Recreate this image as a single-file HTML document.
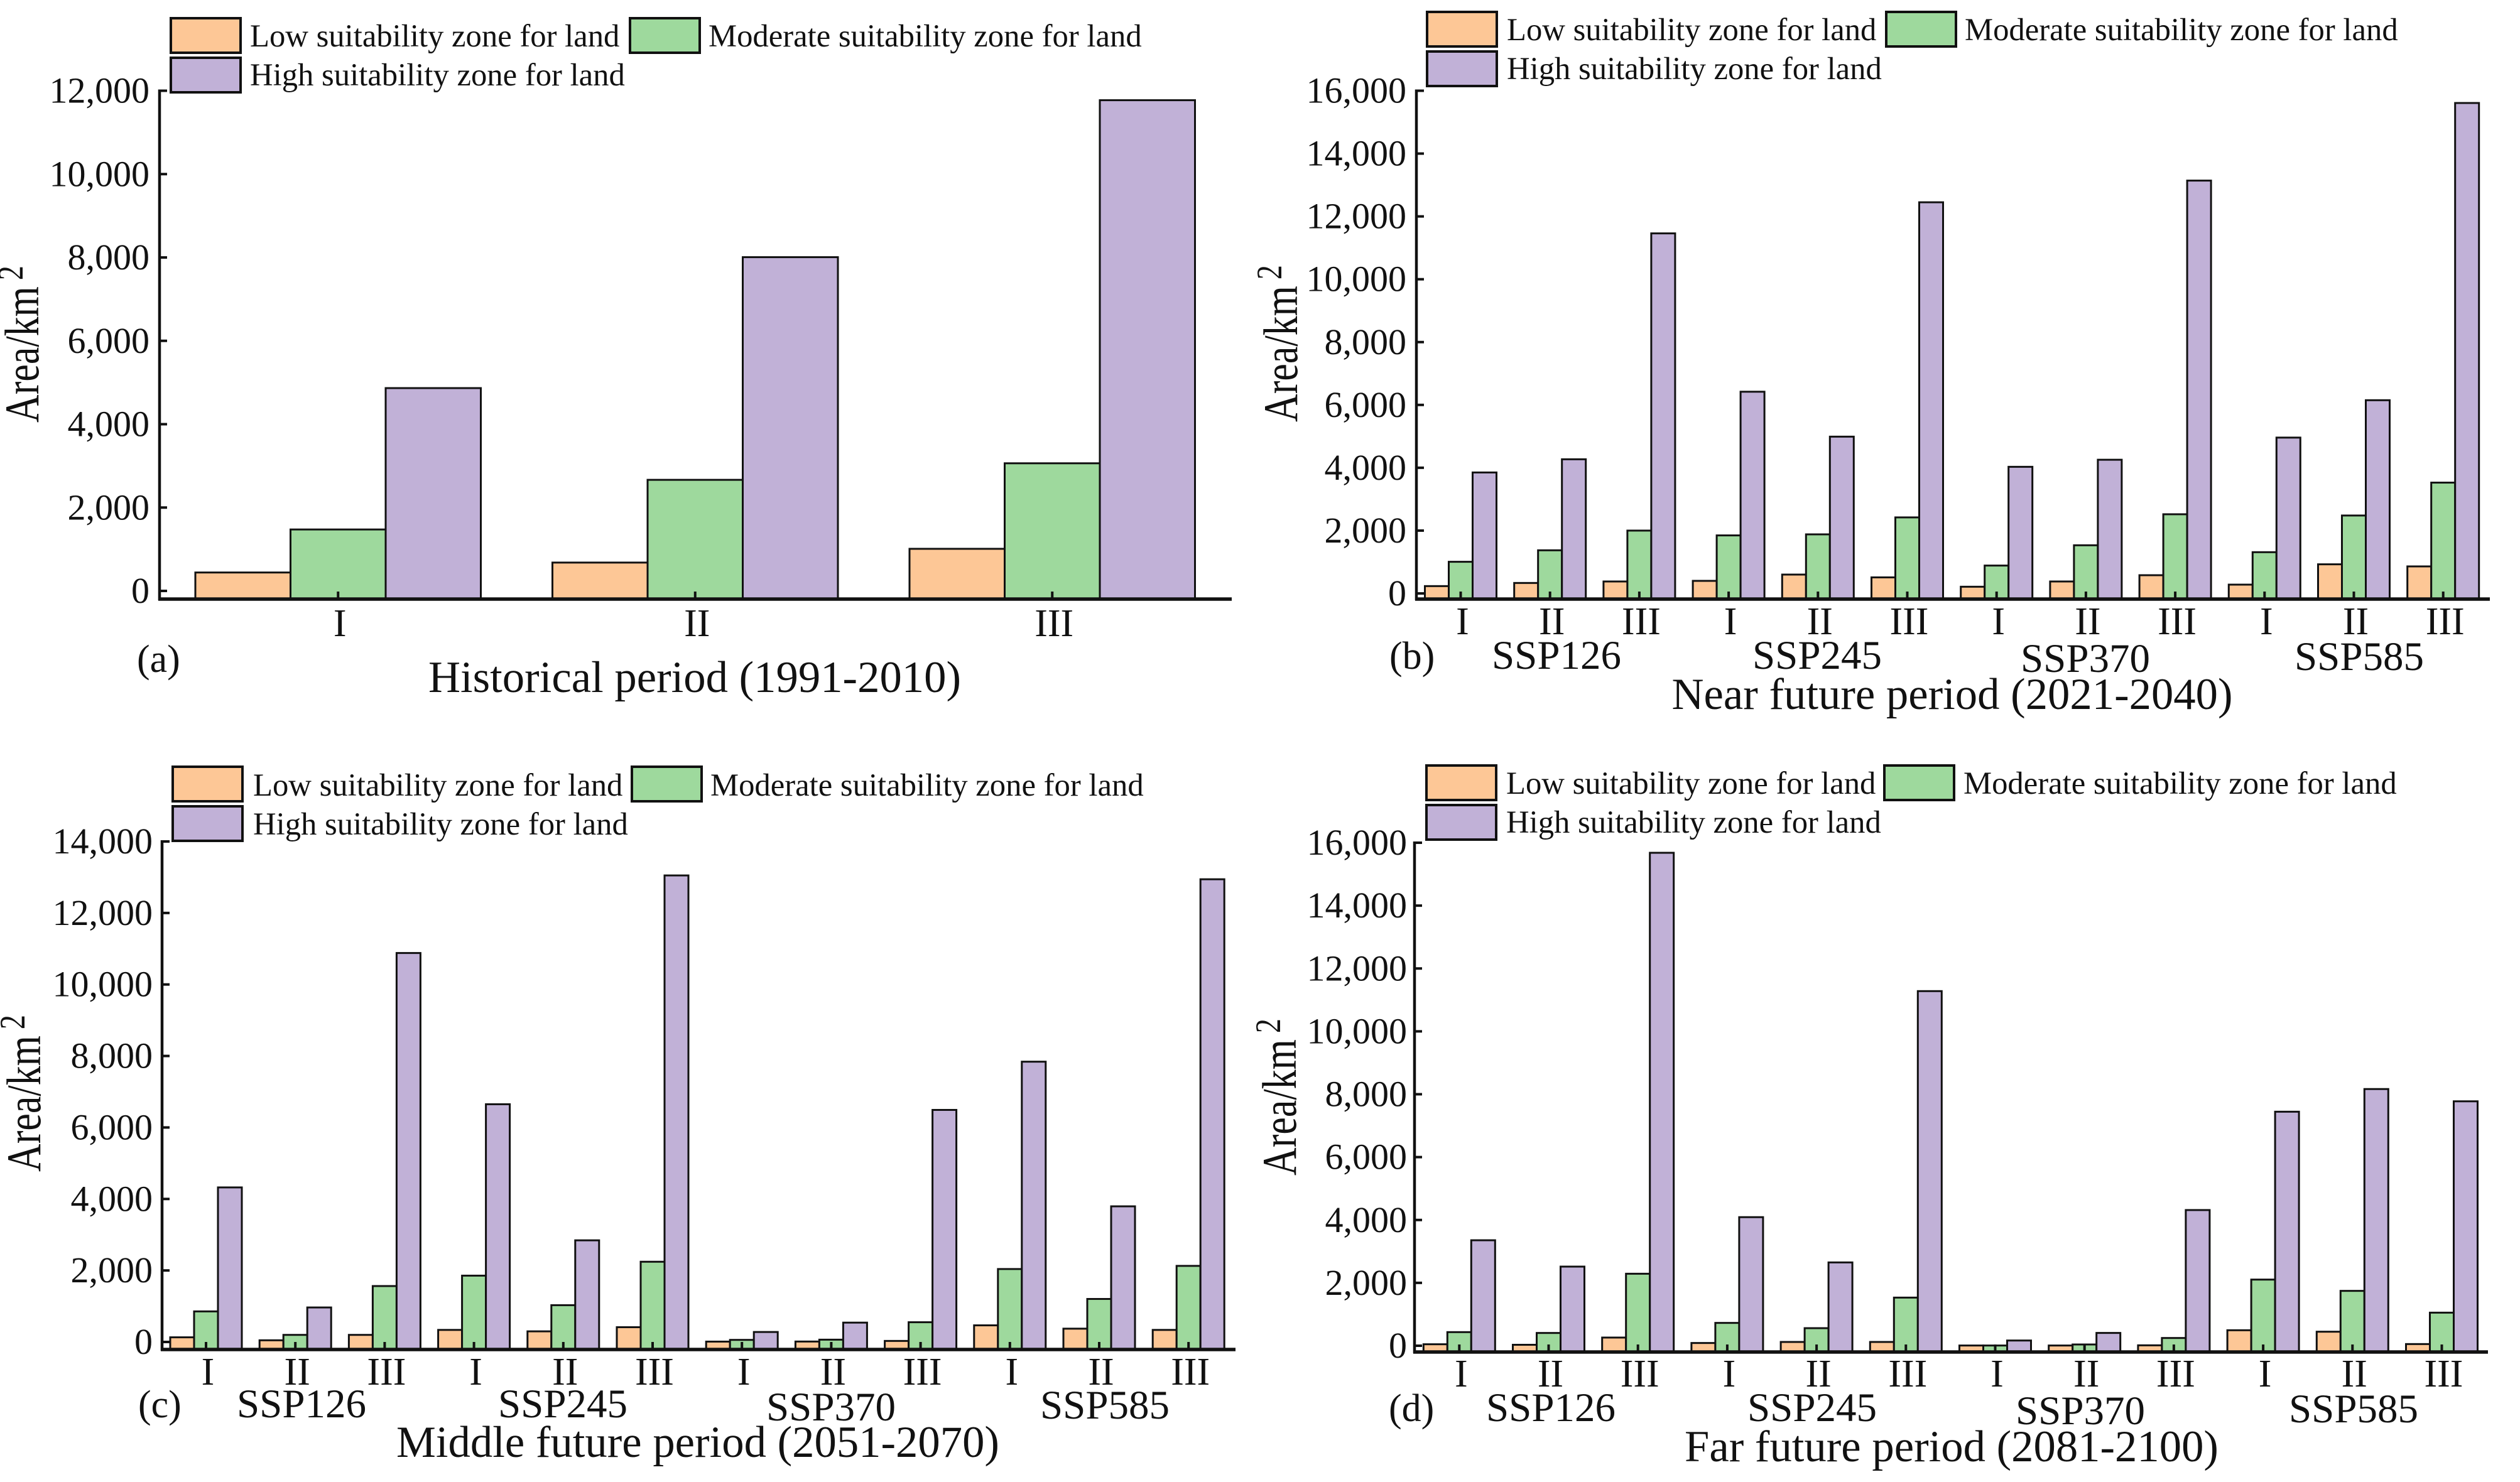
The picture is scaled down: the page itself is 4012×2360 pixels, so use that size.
<!DOCTYPE html>
<html lang="en">
<head>
<meta charset="utf-8">
<title>Land suitability zone area by period</title>
<style>
html,body{margin:0;padding:0;background:#fff;}
svg{display:block;}
text{font-family:"Liberation Serif","Times New Roman",serif;fill:#111;}
.leg{font-size:50.7px;}
.tick{font-size:58px;text-anchor:end;}
.cat{font-size:62px;text-anchor:middle;}
.ssp{font-size:65px;text-anchor:middle;}
.title{font-size:70.7px;text-anchor:middle;}
.tag{font-size:62px;}
.ytitle{font-size:62px;}
</style>
</head>
<body>
<svg id="figure" xmlns="http://www.w3.org/2000/svg" width="4012" height="2360" viewBox="0 0 4012 2360">
<rect x="0" y="0" width="4012" height="2360" fill="#fff"/>

<g id="panel-a">
  <g transform="translate(272,29)">
    <g><rect x="0" y="0" width="111" height="55" fill="#FDC796" stroke="#111" stroke-width="4"/><text class="leg" x="126" y="45">Low suitability zone for land</text></g>
    <g><rect x="731" y="0" width="111" height="55" fill="#9ED99D" stroke="#111" stroke-width="4"/><text class="leg" x="856" y="45">Moderate suitability zone for land</text></g>
    <g><rect x="0" y="63" width="111" height="55" fill="#C1B1D7" stroke="#111" stroke-width="4"/><text class="leg" x="126" y="107">High suitability zone for land</text></g>
  </g>
  <text class="ytitle" transform="translate(61,673) rotate(-90) scale(1,1.25)">Area/km<tspan font-size="46" dy="-20" dx="10">2</tspan></text>
  <text class="tag" x="218" y="1070">(a)</text>
  <text class="title" x="1106" y="1102">Historical period (1991-2010)</text>
</g>

<g id="panel-b">
  <g transform="translate(2272,19)">
    <g><rect x="0" y="0" width="111" height="55" fill="#FDC796" stroke="#111" stroke-width="4"/><text class="leg" x="127" y="45">Low suitability zone for land</text></g>
    <g><rect x="731" y="0" width="111" height="55" fill="#9ED99D" stroke="#111" stroke-width="4"/><text class="leg" x="856" y="45">Moderate suitability zone for land</text></g>
    <g><rect x="0" y="63" width="111" height="55" fill="#C1B1D7" stroke="#111" stroke-width="4"/><text class="leg" x="127" y="107">High suitability zone for land</text></g>
  </g>
  <text class="ytitle" transform="translate(2065,672) rotate(-90) scale(1,1.25)">Area/km<tspan font-size="46" dy="-20" dx="10">2</tspan></text>
  <text class="tag" x="2212" y="1065">(b)</text>
  <text class="ssp" x="2478" y="1065">SSP126</text>
  <text class="ssp" x="2893" y="1065">SSP245</text>
  <text class="ssp" x="3320" y="1070">SSP370</text>
  <text class="ssp" x="3756" y="1067">SSP585</text>
  <text class="title" x="3108" y="1129">Near future period (2021-2040)</text>
</g>

<g id="panel-c">
  <g transform="translate(275,1221)">
    <g><rect x="0" y="0" width="111" height="55" fill="#FDC796" stroke="#111" stroke-width="4"/><text class="leg" x="128" y="46">Low suitability zone for land</text></g>
    <g><rect x="731" y="0" width="111" height="55" fill="#9ED99D" stroke="#111" stroke-width="4"/><text class="leg" x="856" y="46">Moderate suitability zone for land</text></g>
    <g><rect x="0" y="63" width="111" height="55" fill="#C1B1D7" stroke="#111" stroke-width="4"/><text class="leg" x="128" y="108">High suitability zone for land</text></g>
  </g>
  <text class="ytitle" transform="translate(64,1866) rotate(-90) scale(1,1.25)">Area/km<tspan font-size="46" dy="-20" dx="10">2</tspan></text>
  <text class="tag" x="220" y="2257">(c)</text>
  <text class="ssp" x="480" y="2257">SSP126</text>
  <text class="ssp" x="896" y="2257">SSP245</text>
  <text class="ssp" x="1323" y="2262">SSP370</text>
  <text class="ssp" x="1759" y="2259">SSP585</text>
  <text class="title" x="1111" y="2320">Middle future period (2051-2070)</text>
</g>

<g id="panel-d">
  <g transform="translate(2271,1219)">
    <g><rect x="0" y="0" width="111" height="55" fill="#FDC796" stroke="#111" stroke-width="4"/><text class="leg" x="127" y="45">Low suitability zone for land</text></g>
    <g><rect x="729" y="0" width="111" height="55" fill="#9ED99D" stroke="#111" stroke-width="4"/><text class="leg" x="855" y="45">Moderate suitability zone for land</text></g>
    <g><rect x="0" y="63" width="111" height="55" fill="#C1B1D7" stroke="#111" stroke-width="4"/><text class="leg" x="127" y="107">High suitability zone for land</text></g>
  </g>
  <text class="ytitle" transform="translate(2063,1872) rotate(-90) scale(1,1.25)">Area/km<tspan font-size="46" dy="-20" dx="10">2</tspan></text>
  <text class="tag" x="2211" y="2263">(d)</text>
  <text class="ssp" x="2469" y="2263">SSP126</text>
  <text class="ssp" x="2885" y="2263">SSP245</text>
  <text class="ssp" x="3312" y="2268">SSP370</text>
  <text class="ssp" x="3747" y="2265">SSP585</text>
  <text class="title" x="3107" y="2327">Far future period (2081-2100)</text>
</g>
</svg>

<script>
// Shared categories
const categoriesHistorical = ['I', 'II', 'III'];
const categoriesFuture = ['I', 'II', 'III', 'I', 'II', 'III', 'I', 'II', 'III', 'I', 'II', 'III'];

// Tick labels (values on the y axes)
const ticksA = [0, 2000, 4000, 6000, 8000, 10000, 12000];
const ticksB = [0, 2000, 4000, 6000, 8000, 10000, 12000, 14000, 16000];
const ticksC = [0, 2000, 4000, 6000, 8000, 10000, 12000, 14000];
const ticksD = [0, 2000, 4000, 6000, 8000, 10000, 12000, 14000, 16000];

// Panel (a) Historical period
const lowA = [442, 680, 1010];
const moderateA = [1474, 2665, 3062];
const highA = [4866, 8007, 11773];

// Panel (b) Near future period
const lowB = [233, 333, 380, 400, 600, 511, 213, 380, 580, 280, 927, 860];
const moderateB = [1007, 1373, 2000, 1847, 1880, 2420, 887, 1533, 2520, 1313, 2480, 3527];
const highB = [3850, 4270, 11460, 6420, 4990, 12450, 4030, 4255, 13140, 4960, 6150, 15610];

// Panel (c) Middle future period
const lowC = [130, 47, 198, 337, 297, 413, 10, 12, 29, 465, 372, 337];
const moderateC = [855, 198, 1564, 1855, 1029, 2244, 58, 64, 552, 2040, 1203, 2128];
const highC = [4323, 965, 10880, 6650, 2843, 13050, 279, 541, 6491, 7840, 3794, 12943];

// Panel (d) Far future period
const lowD = [47, 30, 260, 87, 120, 120, 7, 7, 13, 493, 446, 53];
const moderateD = [433, 406, 2290, 726, 559, 1531, 7, 40, 246, 2104, 1745, 1052];
const highD = [3355, 2517, 15680, 4090, 2650, 11280, 166, 407, 4316, 7444, 8165, 7775];

const SVG_NS = 'http://www.w3.org/2000/svg';
const INK = '#111';
const FILLS = { low: '#FDC796', moderate: '#9ED99D', high: '#C1B1D7' };

function makeEl(tag, attrs) {
  const el = document.createElementNS(SVG_NS, tag);
  for (const k in attrs) { el.setAttribute(k, attrs[k]); }
  return el;
}

function formatTick(v) {
  return v.toLocaleString('en-US');
}

function drawPanel(panelId, categories, series, ticks, layout) {
  const root = document.getElementById(panelId);

  // Axis functions
  const yTop = layout.yZero - (layout.yMaxPx);
  const maxTick = ticks[ticks.length - 1];
  const yScale = function (v) { return layout.yZero - (v / maxTick) * layout.yMaxPx; };
  const groupLeft = function (i) { return layout.firstBar + i * layout.pitch; };
  const groupCenter = function (i) { return groupLeft(i) + layout.barWidth * 1.5; };

  // Bars
  const seriesKeys = ['low', 'moderate', 'high'];
  seriesKeys.forEach(function (key, s) {
    series[key].forEach(function (value, i) {
      const top = yScale(value);
      const bar = makeEl('rect', {
        x: groupLeft(i) + s * layout.barWidth,
        y: top,
        width: layout.barWidth,
        height: Math.max(0, layout.baseline - top),
        fill: FILLS[key],
        stroke: INK,
        'stroke-width': 3
      });
      
      
      root.appendChild(bar);
    });
  });

  // Y axis line
  const yAxis = makeEl('line', {
    x1: layout.axisX, x2: layout.axisX,
    y1: yTop - 2, y2: layout.baseline + 2,
    stroke: INK, 'stroke-width': 4.5
  });
  
  
  root.appendChild(yAxis);

  // X axis line
  const xAxis = makeEl('line', {
    x1: layout.axisX - 2, x2: layout.axisEnd,
    y1: layout.baseline, y2: layout.baseline,
    stroke: INK, 'stroke-width': 5.5
  });
  
  
  root.appendChild(xAxis);

  // Y ticks and labels
  ticks.forEach(function (t) {
    const y = yScale(t);
    const mark = makeEl('line', {
      x1: layout.axisX, x2: layout.axisX + 12,
      y1: y, y2: y,
      stroke: INK, 'stroke-width': 4
    });
    
    
    root.appendChild(mark);

    const label = makeEl('text', { x: layout.tickRight, y: y + 19, class: 'tick' });
    
    
    label.textContent = formatTick(t);
    root.appendChild(label);
  });

  // X ticks and labels
  categories.forEach(function (cat, i) {
    const x = groupCenter(i);
    const mark = makeEl('line', {
      x1: x, x2: x,
      y1: layout.baseline, y2: layout.baseline - 12,
      stroke: INK, 'stroke-width': 4
    });
    
    
    root.appendChild(mark);

    const label = makeEl('text', { x: x + 3, y: layout.catBaseline, class: 'cat' });
    
    
    label.textContent = cat;
    root.appendChild(label);
  });
}

drawPanel('panel-a', categoriesHistorical,
  { low: lowA, moderate: moderateA, high: highA }, ticksA,
  { axisX: 254, axisEnd: 1961, yZero: 941, yMaxPx: 796.5, baseline: 954, firstBar: 311, pitch: 568.5, barWidth: 151.5, tickRight: 238, catBaseline: 1013 });

drawPanel('panel-b', categoriesFuture,
  { low: lowB, moderate: moderateB, high: highB }, ticksB,
  { axisX: 2255, axisEnd: 3964, yZero: 945, yMaxPx: 800.5, baseline: 954, firstBar: 2268.5, pitch: 142.2, barWidth: 38, tickRight: 2239, catBaseline: 1010 });

drawPanel('panel-c', categoriesFuture,
  { low: lowC, moderate: moderateC, high: highC }, ticksC,
  { axisX: 258, axisEnd: 1967, yZero: 2137, yMaxPx: 797, baseline: 2149, firstBar: 271, pitch: 142.2, barWidth: 38, tickRight: 243, catBaseline: 2205 });

drawPanel('panel-d', categoriesFuture,
  { low: lowD, moderate: moderateD, high: highD }, ticksD,
  { axisX: 2252, axisEnd: 3961, yZero: 2143, yMaxPx: 801, baseline: 2153, firstBar: 2266.3, pitch: 142.2, barWidth: 38, tickRight: 2240, catBaseline: 2208 });
</script>
</body>
</html>
